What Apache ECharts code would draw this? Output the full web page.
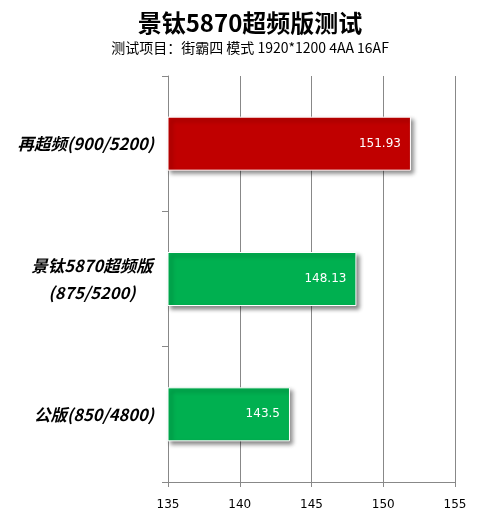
<!DOCTYPE html>
<html>
<head>
<meta charset="utf-8">
<script src="https://cdn.jsdelivr.net/npm/echarts@6/dist/echarts.min.js"></script>
<style>
  html, body { margin: 0; padding: 0; background: #fff; }
  #main { width: 500px; height: 516px; }
</style>
</head>
<body>
<div id="main"></div>
<script>
// 数据
const categories = ['再超频(900/5200)', '景钛5870超频版\n(875/5200)', '公版(850/4800)'];
const scores = [151.93, 148.13, 143.5];
const barColors = ['#C00000', '#00B050', '#00B050'];
const axisMin = 135;
const axisMax = 155;
const axisStep = 5;

const chart = echarts.init(document.getElementById('main'));

const option = {
    backgroundColor: '#fff',
    animation: false,
    title: {
        text: '景钛5870超频版测试',
        subtext: '测试项目：街霸四 模式 1920*1200 4AA 16AF',
        left: 'center',
        top: 6,
        itemGap: 6,
        textStyle: { fontFamily: 'Noto Sans CJK SC', fontWeight: 'bold', fontSize: 24, color: '#000' },
        subtextStyle: { fontFamily: 'Noto Sans CJK SC', fontSize: 14, color: '#000' }
    },
    grid: { left: 168, right: 45, top: 76, bottom: 34 },
    xAxis: {
        type: 'value',
        min: axisMin,
        max: axisMax,
        interval: axisStep,
        axisLine: { show: true, lineStyle: { color: '#888', width: 1 } },
        axisTick: { show: true, length: 5, lineStyle: { color: '#888' } },
        axisLabel: { color: '#000', fontSize: 12, fontFamily: 'DejaVu Sans', margin: 17 },
        splitLine: { show: true, lineStyle: { color: '#888', width: 1 } }
    },
    yAxis: {
        type: 'category',
        inverse: true,
        data: categories,
        axisLine: { show: true, lineStyle: { color: '#888', width: 1 } },
        axisTick: { show: true, length: 6, lineStyle: { color: '#888' } },
        axisLabel: {
            margin: 14,
            lineHeight: 27,
            color: '#000',
            fontSize: 16.5,
            fontWeight: 'bold',
            fontStyle: 'italic',
            fontFamily: 'Noto Sans CJK SC',
            formatter: (v) => v.indexOf('\n') >= 0
                ? v.split('\n').map((s) => '{c|' + s + '}').join('\n')
                : v,
            rich: {
                c: {
                    width: 124,
                    align: 'center',
                    fontSize: 16.5,
                    fontWeight: 'bold',
                    fontStyle: 'italic',
                    fontFamily: 'Noto Sans CJK SC',
                    color: '#000',
                    lineHeight: 27
                }
            }
        }
    },
    series: [{
        type: 'bar',
        barWidth: 54,
        data: scores.map((v, i) => ({
            value: v,
            itemStyle: { color: barColors[i] }
        })),
        itemStyle: {
            borderColor: '#fff',
            borderWidth: 1,
            shadowColor: 'rgba(0,0,0,0.45)',
            shadowBlur: 4,
            shadowOffsetX: 3,
            shadowOffsetY: 3
        },
        label: {
            show: true,
            position: 'insideRight',
            distance: 10,
            color: '#fff',
            fontSize: 12,
            fontFamily: 'DejaVu Sans'
        }
    }]
};

chart.setOption(option);
</script>
</body>
</html>
